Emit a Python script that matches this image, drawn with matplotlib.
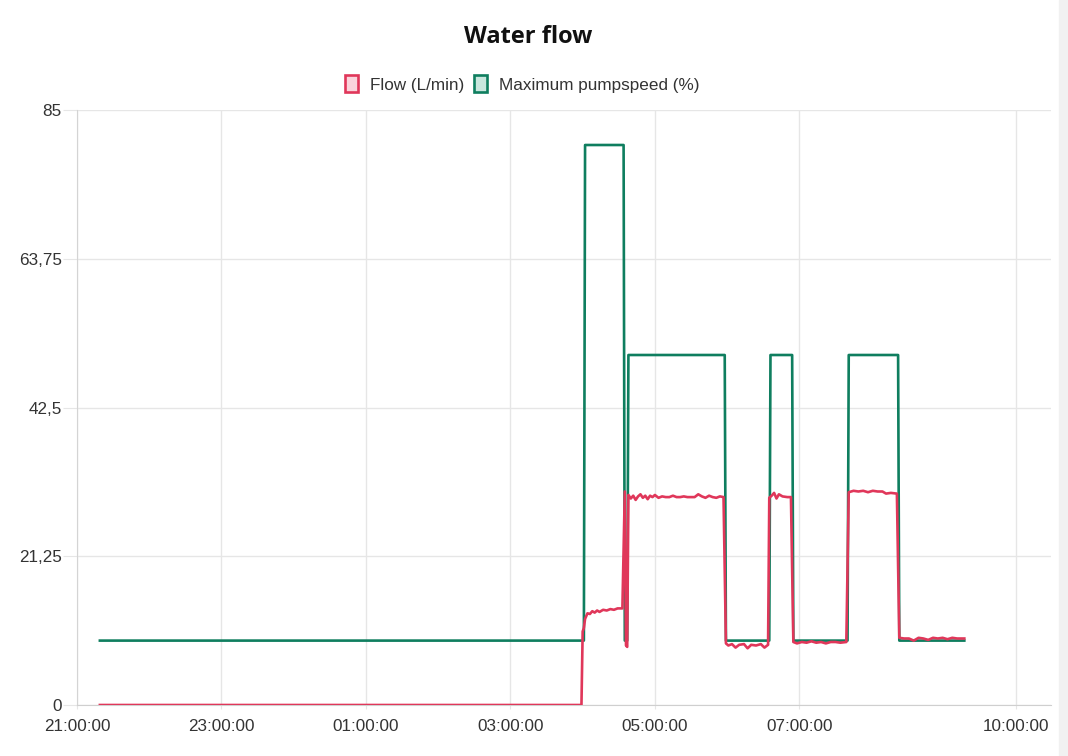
import numpy as np
import pandas as pd
import matplotlib
matplotlib.use("Agg")
import matplotlib.pyplot as plt
from matplotlib.patches import Patch, Rectangle

# readings (HH:MM), night of day 1 -> morning of day 2
flow_times = ["21:19", "03:59", "04:00", "04:01", "04:02", "04:04", "04:06", "04:08", "04:10",
              "04:12", "04:14", "04:17", "04:20", "04:23", "04:26", "04:29", "04:33", "04:35",
              "04:36", "04:37", "04:38", "04:40", "04:42", "04:44", "04:46", "04:48", "04:50",
              "04:52", "04:54", "04:56", "04:58", "05:00", "05:03", "05:06", "05:09", "05:12",
              "05:15", "05:18", "05:21", "05:24", "05:27", "05:30", "05:33", "05:36", "05:39",
              "05:42", "05:45", "05:48", "05:51", "05:54", "05:57", "05:59", "06:01", "06:04",
              "06:07", "06:10", "06:14", "06:17", "06:20", "06:24", "06:28", "06:31", "06:34",
              "06:35", "06:37", "06:39", "06:41", "06:43", "06:46", "06:50", "06:53", "06:55",
              "06:58", "07:02", "07:06", "07:10", "07:14", "07:18", "07:22", "07:26", "07:30",
              "07:34", "07:39", "07:41", "07:45", "07:49", "07:53", "07:57", "08:01", "08:05",
              "08:09", "08:12", "08:16", "08:21", "08:23", "08:27", "08:31", "08:35", "08:39",
              "08:43", "08:47", "08:51", "08:55", "08:59", "09:03", "09:07", "09:11", "09:17"]
flow_vals = [0, 0, 10.5, 11.0, 12.3, 13.1, 13.0, 13.4, 13.2,
             13.5, 13.3, 13.6, 13.5, 13.7, 13.6, 13.8, 13.8, 30.5,
             8.5, 8.3, 30.0, 29.5, 29.9, 29.3, 29.8, 30.1, 29.6,
             29.9, 29.4, 29.9, 29.7, 30.0, 29.6, 29.8, 29.7, 29.7,
             29.9, 29.7, 29.7, 29.8, 29.7, 29.7, 29.7, 30.1, 29.8,
             29.6, 29.9, 29.7, 29.6, 29.8, 29.7, 8.8, 8.5, 8.7,
             8.2, 8.6, 8.7, 8.1, 8.6, 8.5, 8.7, 8.2, 8.6,
             29.6, 29.9, 30.3, 29.5, 30.1, 29.8, 29.7, 29.7, 9.0,
             8.8, 9.0, 8.9, 9.1, 8.9, 9.0, 8.8, 9.0, 9.0,
             8.9, 9.0, 30.4, 30.6, 30.5, 30.6, 30.4, 30.6, 30.5,
             30.5, 30.2, 30.3, 30.2, 9.6, 9.5, 9.5, 9.2, 9.6,
             9.5, 9.3, 9.6, 9.5, 9.6, 9.4, 9.6, 9.5, 9.5]

pump_times = ["21:19", "04:01", "04:02", "04:34", "04:35", "04:37", "04:38", "05:58", "05:59",
              "06:35", "06:36", "06:54", "06:55", "07:40", "07:41", "08:22", "08:23", "09:17"]
pump_vals = [9.2, 9.2, 80, 80, 9.2, 9.2, 50, 50, 9.2,
             9.2, 50, 50, 9.2, 9.2, 50, 50, 9.2, 9.2]

y_ticks = [0, 21.25, 42.5, 63.75, 85]
y_labels = ["0", "21,25", "42,5", "63,75", "85"]
x_tick_labels = ["21:00:00", "23:00:00", "01:00:00", "03:00:00", "05:00:00", "07:00:00", "10:00:00"]


def to_dt(hhmm):
    h, m = map(int, hhmm.split(":"))
    day = 1 if h >= 12 else 2
    return pd.Timestamp(2024, 1, day, h, m)


flow_x = [to_dt(t) for t in flow_times]
pump_x = [to_dt(t) for t in pump_times]
x_ticks = [to_dt(t[:5]) for t in x_tick_labels]

plt.rcParams['font.family'] = ['Liberation Sans', 'DejaVu Sans']

red = '#e0375a'
green = '#0f7e5f'
grid_c = '#e6e6e6'

fig = plt.figure(figsize=(10.68, 7.56), dpi=100)
ax = fig.add_axes([77 / 1068, 1 - 705 / 756, (1051 - 77) / 1068, (705 - 110) / 756])

ax.plot(pump_x, pump_vals, color=green, lw=1.9, zorder=2)
ax.plot(flow_x, flow_vals, color=red, lw=1.9, zorder=3)

ax.set_ylim(0, 85)
ax.set_xlim(to_dt("21:00"), to_dt("21:00") + pd.Timedelta(minutes=809))
ax.set_yticks(y_ticks)
ax.set_yticklabels(y_labels)
ax.set_xticks(x_ticks)
ax.set_xticklabels(x_tick_labels)

ax.grid(True, color=grid_c, lw=1)
ax.set_axisbelow(True)
for s in ['top', 'right']:
    ax.spines[s].set_visible(False)
ax.spines['left'].set_color('#d4d4d4')
ax.spines['bottom'].set_color('#cfcfcf')
ax.tick_params(axis='y', length=10, color=grid_c, pad=1, labelsize=12.3, labelcolor='#333333')
ax.tick_params(axis='x', length=3, color=grid_c, pad=7, labelsize=12.3, labelcolor='#333333')

fig.text(528 / 1068, 1 - 37 / 756, "Water flow", ha='center', va='center',
         fontsize=17, fontweight='bold', family=['Open Sans', 'DejaVu Sans'], color='#111111')

handles = [Patch(facecolor='#fad4dc', edgecolor=red, lw=1.9, label='Flow (L/min)'),
           Patch(facecolor='#c9e7de', edgecolor=green, lw=1.9, label='Maximum pumpspeed (%)')]
fig.legend(handles=handles, loc='center', bbox_to_anchor=(522 / 1068, 1 - 84 / 756), ncol=2,
           frameon=False, fontsize=12.3, handlelength=0.75, handleheight=1.1,
           handletextpad=0.7, columnspacing=0.6, labelcolor='#333333')

fig.patches.append(Rectangle((1059 / 1068, 0), 9 / 1068, 1, transform=fig.transFigure,
                             color='#f1f1f1', zorder=0))

fig.savefig("out.png", dpi=100)
